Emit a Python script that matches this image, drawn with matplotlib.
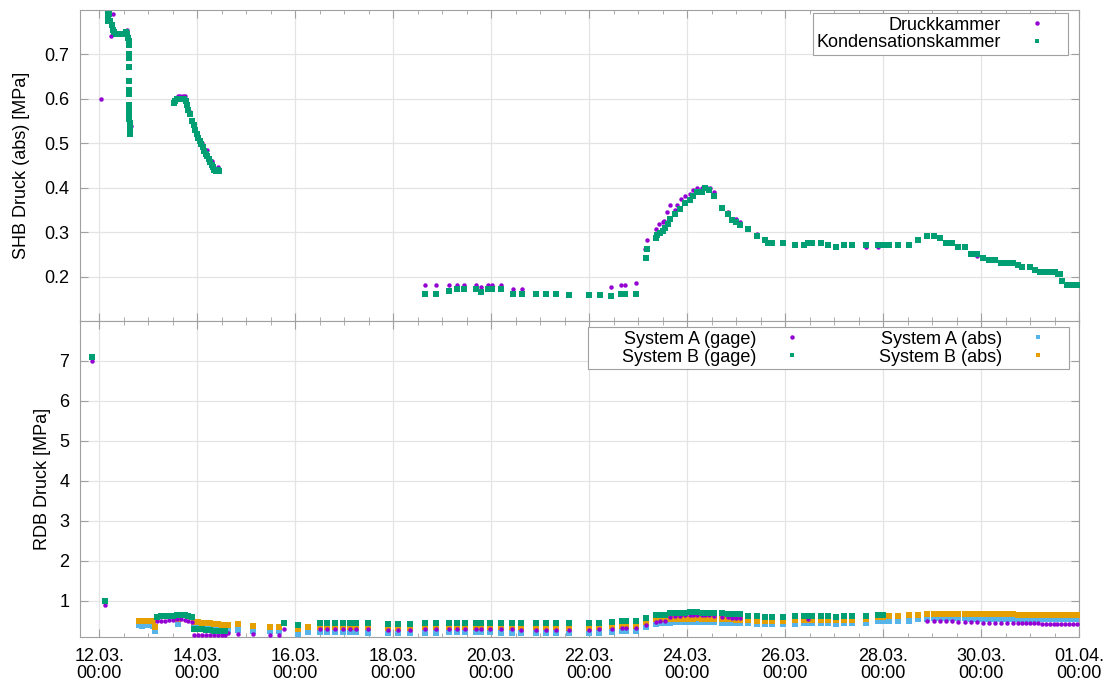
import numpy as np
import matplotlib
matplotlib.use("Agg")
import matplotlib.pyplot as plt
import matplotlib.dates as mdates
from matplotlib.lines import Line2D

plt.rcParams['font.family'] = ['Liberation Sans', 'DejaVu Sans']
plt.rcParams['font.size'] = 13

# all times are days after 12.03.2011 00:00
t0 = mdates.date2num(np.datetime64('2011-03-12T00:00'))

# ---- SHB (containment) pressure, abs [MPa]
t_druck = [0.035, 0.17, 0.24, 0.27, 0.30, 0.40, 0.50, 0.56, 0.59, 0.65,
           1.53, 1.60, 1.65, 1.70, 1.75, 1.85, 2.00, 2.10, 2.20, 2.30, 2.43,
           6.65, 6.87, 7.13, 7.30, 7.45, 7.69, 7.80, 7.93, 8.01, 8.20, 8.44, 8.62,
           9.59, 10.00, 10.22, 10.45, 10.65, 10.73, 10.96,
           11.15, 11.18, 11.37, 11.42, 11.50, 11.53, 11.58, 11.65, 11.75, 11.80,
           11.87, 11.96, 12.05, 12.13, 12.21, 12.30, 12.40, 12.47, 12.54, 12.71,
           12.83, 12.91, 13.00, 13.08, 13.25, 13.42, 13.59, 13.73, 13.96, 14.20,
           14.39, 14.55, 14.73, 14.87, 15.04, 15.21, 15.37, 15.65, 15.90, 16.00,
           16.13, 16.30, 16.52, 16.72, 16.90, 17.04, 17.16, 17.29, 17.41, 17.54,
           17.67, 17.79, 17.91, 18.05, 18.16, 18.29, 18.41, 18.53, 18.66, 18.75,
           18.84, 19.00, 19.10, 19.20, 19.31, 19.41, 19.51, 19.57, 19.61, 19.66,
           19.76, 19.86, 19.96]
p_druck = [0.600, 0.780, 0.740, 0.790, 0.750, 0.745, 0.750, 0.755, 0.670, 0.538,
           0.595, 0.605, 0.605, 0.605, 0.605, 0.570, 0.520, 0.500, 0.485, 0.460, 0.445,
           0.181, 0.181, 0.181, 0.181, 0.181, 0.181, 0.176, 0.181, 0.181, 0.181, 0.172, 0.172,
           0.161, 0.161, 0.161, 0.176, 0.182, 0.182, 0.186,
           0.261, 0.281, 0.307, 0.319, 0.323, 0.325, 0.344, 0.361, 0.349, 0.361,
           0.375, 0.381, 0.385, 0.394, 0.400, 0.400, 0.400, 0.400, 0.389, 0.355,
           0.345, 0.330, 0.330, 0.322, 0.310, 0.295, 0.281, 0.276, 0.276, 0.271,
           0.271, 0.276, 0.276, 0.271, 0.266, 0.271, 0.271, 0.266, 0.266, 0.271,
           0.271, 0.271, 0.271, 0.281, 0.291, 0.291, 0.286, 0.276, 0.276, 0.266,
           0.266, 0.251, 0.246, 0.241, 0.236, 0.236, 0.231, 0.231, 0.231, 0.226,
           0.221, 0.221, 0.214, 0.211, 0.211, 0.211, 0.211, 0.208, 0.206, 0.191,
           0.181, 0.181, 0.181]

t_kond = [0.17, 0.17, 0.17, 0.17, 0.20, 0.22, 0.25, 0.28, 0.30, 0.33, 0.37, 0.40,
          0.44, 0.48, 0.52, 0.55, 0.57, 0.58, 0.60, 0.60, 0.60, 0.60, 0.60, 0.61,
          0.61, 0.61, 0.61, 0.61, 0.61, 0.61, 0.62, 0.62, 0.62, 0.62,
          1.53, 1.55, 1.58, 1.62, 1.66, 1.70, 1.73, 1.76, 1.79, 1.82, 1.86, 1.90,
          1.93, 1.96, 1.99, 2.02, 2.05, 2.08, 2.11, 2.14, 2.17, 2.20, 2.23, 2.26,
          2.29, 2.32, 2.35, 2.38, 2.42, 2.45,
          6.65, 6.87, 7.13, 7.30, 7.45, 7.69, 7.80, 7.93, 8.01, 8.20, 8.44, 8.62,
          8.91, 9.11, 9.32, 9.59, 10.00, 10.22, 10.45, 10.65, 10.73, 10.96,
          11.16, 11.18, 11.37, 11.39, 11.45, 11.50, 11.55, 11.60, 11.65, 11.75,
          11.85, 11.96, 12.05, 12.13, 12.21, 12.30, 12.37, 12.45, 12.54, 12.71,
          12.83, 12.91, 13.00, 13.08, 13.25, 13.42, 13.59, 13.65, 13.73, 13.96,
          14.20, 14.39, 14.47, 14.55, 14.73, 14.87, 15.04, 15.21, 15.37, 15.65,
          15.90, 16.00, 16.13, 16.30, 16.52, 16.72, 16.90, 17.04, 17.16, 17.29,
          17.41, 17.54, 17.67, 17.79, 17.91, 18.05, 18.16, 18.29, 18.41, 18.53,
          18.66, 18.75, 18.84, 19.00, 19.10, 19.20, 19.31, 19.41, 19.51, 19.57,
          19.61, 19.66, 19.76, 19.86, 19.96]
p_kond = [0.790, 0.785, 0.780, 0.775, 0.790, 0.775, 0.765, 0.755, 0.750, 0.745, 0.745, 0.745,
          0.745, 0.745, 0.745, 0.750, 0.745, 0.735, 0.730, 0.720, 0.700, 0.690, 0.670, 0.640,
          0.620, 0.610, 0.585, 0.575, 0.565, 0.555, 0.545, 0.535, 0.530, 0.520,
          0.590, 0.595, 0.600, 0.600, 0.600, 0.600, 0.600, 0.595, 0.585, 0.575, 0.565, 0.550,
          0.540, 0.530, 0.520, 0.512, 0.505, 0.498, 0.490, 0.483, 0.476, 0.470, 0.463, 0.457,
          0.450, 0.445, 0.440, 0.437, 0.440, 0.437,
          0.161, 0.161, 0.167, 0.171, 0.171, 0.171, 0.165, 0.171, 0.171, 0.171, 0.161, 0.161,
          0.161, 0.161, 0.161, 0.159, 0.159, 0.159, 0.157, 0.161, 0.161, 0.161,
          0.241, 0.261, 0.286, 0.293, 0.297, 0.302, 0.308, 0.319, 0.329, 0.340,
          0.352, 0.366, 0.372, 0.381, 0.389, 0.389, 0.400, 0.394, 0.381, 0.355,
          0.340, 0.327, 0.322, 0.316, 0.306, 0.291, 0.281, 0.276, 0.276, 0.276,
          0.271, 0.271, 0.276, 0.276, 0.276, 0.271, 0.266, 0.271, 0.271, 0.271,
          0.271, 0.271, 0.271, 0.271, 0.271, 0.281, 0.291, 0.291, 0.286, 0.276,
          0.276, 0.266, 0.266, 0.251, 0.251, 0.241, 0.236, 0.236, 0.231, 0.231,
          0.231, 0.226, 0.221, 0.221, 0.214, 0.211, 0.211, 0.211, 0.211, 0.206,
          0.206, 0.191, 0.181, 0.181, 0.181]

# ---- RDB (reactor vessel) pressure [MPa], nan = no reading
nan = np.nan
t_rdb = [-0.155, 0.116, 0.80, 0.88, 0.96, 1.04, 1.10, 1.14,
         1.18, 1.26, 1.34, 1.42, 1.50, 1.58, 1.61, 1.66, 1.74, 1.82, 1.90,
         1.94, 2.02, 2.10, 2.18, 2.26, 2.34, 2.42, 2.50, 2.56,
         2.63, 2.84, 3.14, 3.49, 3.66, 3.78, 4.06, 4.27, 4.51, 4.64, 4.81, 4.98,
         5.12, 5.25, 5.49, 5.90, 6.10, 6.34, 6.65, 6.87, 7.13, 7.30, 7.47, 7.69,
         7.79, 7.98, 8.20, 8.43, 8.61, 8.91, 9.12, 9.32, 9.58, 10.00, 10.21, 10.46,
         10.67, 10.75, 10.96, 11.16, 11.37, 11.45, 11.55, 11.65, 11.75, 11.85, 11.96,
         12.05, 12.13, 12.21, 12.30, 12.37, 12.45, 12.54, 12.71, 12.83, 12.91, 13.00,
         13.08, 13.25, 13.42, 13.59, 13.73, 13.96, 14.20, 14.39, 14.47, 14.55, 14.73,
         14.87, 15.04, 15.21, 15.37, 15.65, 15.90, 16.00, 16.13, 16.30, 16.52, 16.72,
         16.90, 17.04, 17.16, 17.29, 17.41, 17.54, 17.67, 17.79, 17.91, 18.05, 18.16,
         18.29, 18.41, 18.53, 18.66, 18.75, 18.84, 18.92, 19.00, 19.08, 19.16, 19.24,
         19.32, 19.40, 19.48, 19.56, 19.64, 19.72, 19.80, 19.88, 19.96]
a_gage = [7.00, 0.90, nan, nan, nan, nan, nan, nan,
          0.48, 0.49, 0.50, 0.51, 0.52, 0.53, nan, 0.53, 0.52, 0.50, 0.47,
          0.15, 0.15, 0.14, 0.15, 0.14, 0.14, 0.13, 0.13, 0.13,
          0.18, 0.17, 0.16, 0.15, 0.15, 0.30, nan, nan, 0.28, 0.28, 0.29, 0.29,
          0.29, 0.28, 0.28, 0.27, 0.27, 0.27, 0.28, 0.28, 0.29, 0.29, 0.28, 0.29,
          0.29, 0.29, 0.28, 0.28, 0.27, 0.27, 0.27, 0.27, 0.27, 0.27, 0.28, 0.30,
          0.31, 0.31, 0.31, 0.40, 0.47, 0.48, 0.50, 0.58, 0.61, 0.62, 0.63,
          0.64, 0.64, 0.64, 0.64, 0.64, 0.63, 0.62, 0.60, 0.58, 0.57, 0.57,
          0.56, nan, nan, nan, nan, nan, nan, nan, 0.55, nan, nan,
          nan, nan, nan, nan, nan, nan, nan, nan, nan, nan, nan,
          0.48, 0.49, 0.49, 0.49, 0.49, 0.46, 0.46, 0.46, 0.46, 0.45, 0.45,
          0.45, 0.45, 0.45, 0.45, 0.44, 0.43, 0.43, 0.43, 0.43, 0.43, 0.42,
          0.42, 0.42, 0.42, 0.42, 0.42, 0.41, 0.42, 0.41, 0.41]
b_gage = [7.11, 1.00, nan, nan, nan, nan, nan, nan,
          0.60, 0.61, 0.61, 0.62, 0.62, 0.63, nan, 0.63, 0.63, 0.62, 0.59,
          0.30, 0.29, 0.28, 0.27, 0.26, 0.25, 0.24, 0.23, 0.23,
          nan, nan, nan, nan, nan, 0.45, 0.40, nan, 0.44, 0.44, 0.45, 0.45,
          0.44, 0.44, 0.43, 0.42, 0.41, 0.42, 0.43, 0.43, 0.45, 0.45, 0.44, 0.45,
          0.45, 0.45, 0.44, 0.43, 0.43, 0.43, 0.43, 0.43, 0.43, 0.43, 0.44, 0.47,
          0.48, 0.48, 0.48, 0.56, 0.63, 0.64, 0.64, 0.68, 0.70, 0.70, 0.70,
          0.71, 0.71, 0.71, 0.70, 0.70, 0.70, 0.69, 0.69, 0.67, 0.67, 0.66,
          0.66, 0.62, 0.61, 0.60, 0.60, 0.60, 0.61, 0.61, 0.62, 0.61, 0.61,
          0.61, 0.60, 0.61, 0.61, 0.62, 0.63, 0.63, nan, nan, nan, nan,
          nan, nan, nan, nan, nan, nan, nan, nan, nan, nan, nan,
          nan, nan, nan, nan, nan, nan, nan, nan, nan, nan, nan,
          nan, nan, nan, nan, nan, nan, nan, nan, nan]
a_abs = [nan, nan, 0.38, 0.37, 0.38, 0.39, 0.37, 0.24,
         nan, nan, nan, nan, nan, nan, 0.42, nan, nan, nan, nan,
         0.38, 0.37, 0.36, 0.35, 0.34, 0.33, 0.32, 0.31, 0.31,
         0.27, 0.27, 0.25, 0.24, 0.24, nan, 0.14, 0.22, 0.21, 0.21, 0.21, 0.22,
         0.21, 0.21, 0.20, 0.20, 0.19, 0.20, 0.20, 0.20, 0.21, 0.21, 0.21, 0.21,
         0.21, 0.21, 0.20, 0.20, 0.20, 0.20, 0.20, 0.20, 0.19, 0.19, 0.20, 0.22,
         0.24, 0.24, 0.24, 0.33, 0.41, 0.43, 0.44, 0.45, 0.46, 0.46, 0.46,
         0.47, 0.47, 0.47, 0.47, 0.47, 0.47, 0.46, 0.45, 0.45, 0.45, 0.44,
         0.44, 0.44, 0.42, 0.42, 0.42, 0.42, 0.42, 0.43, 0.43, 0.43, 0.43,
         0.43, 0.42, 0.43, 0.43, 0.44, 0.48, 0.48, 0.50, 0.50, 0.50, 0.53,
         0.55, 0.56, 0.56, 0.56, 0.56, 0.56, 0.56, 0.55, 0.55, 0.55, 0.55,
         0.55, 0.55, 0.55, 0.55, 0.54, 0.54, 0.54, 0.54, 0.54, 0.54, 0.54,
         0.54, 0.54, 0.53, 0.53, 0.53, 0.53, 0.53, 0.53, 0.53]
b_abs = [nan, nan, 0.48, 0.48, 0.49, 0.50, 0.49, 0.35,
         nan, nan, nan, nan, nan, nan, 0.54, nan, nan, nan, nan,
         0.47, 0.46, 0.45, 0.44, 0.43, 0.42, 0.41, 0.40, 0.40,
         0.40, 0.41, 0.37, 0.33, 0.33, nan, 0.30, 0.33, 0.34, 0.34, 0.34, 0.35,
         0.34, 0.34, 0.33, 0.32, 0.31, 0.32, 0.33, 0.33, 0.34, 0.34, 0.34, 0.34,
         0.34, 0.34, 0.33, 0.33, 0.33, 0.33, 0.33, 0.33, 0.32, 0.32, 0.33, 0.36,
         0.37, 0.37, 0.37, 0.47, 0.53, 0.54, 0.55, 0.54, 0.55, 0.55, 0.55,
         0.55, 0.55, 0.56, 0.55, 0.55, 0.55, 0.54, 0.53, 0.53, 0.53, 0.52,
         0.52, 0.52, 0.50, 0.50, 0.50, 0.50, 0.51, 0.51, 0.52, 0.52, 0.52,
         0.51, 0.51, 0.51, 0.52, 0.55, 0.60, 0.60, 0.62, 0.62, 0.63, 0.64,
         0.66, 0.67, 0.67, 0.67, 0.67, 0.66, 0.66, 0.66, 0.66, 0.66, 0.66,
         0.66, 0.66, 0.66, 0.66, 0.65, 0.65, 0.65, 0.65, 0.65, 0.65, 0.65,
         0.65, 0.65, 0.65, 0.65, 0.65, 0.65, 0.64, 0.64, 0.64]

PURPLE = '#9400d3'
GREEN = '#009e73'
BLUE = '#56b4e9'
ORANGE = '#e69f00'
GRAY = '#a0a0a0'


def days(t):
    return t0 + np.asarray(t, dtype=float)


def style(ax, ylim, yticks):
    ax.set_xlim(t0 - 0.385, t0 + 20)
    ax.set_ylim(*ylim)
    ax.set_yticks(yticks)
    ax.xaxis.set_major_locator(plt.FixedLocator(t0 + np.arange(0, 21, 2)))
    ax.xaxis.set_minor_locator(plt.FixedLocator(t0 + np.arange(-0.5, 20.01, 0.5)))
    ax.xaxis.set_major_formatter(mdates.DateFormatter('%d.%m.\n%H:%M'))
    ax.tick_params(which='both', direction='in', top=True, right=True, color=GRAY)
    ax.tick_params(which='major', length=6, pad=8)
    ax.tick_params(which='minor', length=3)
    ax.tick_params(axis='y', which='minor', left=False, right=False)
    ax.grid(True, which='major', color='#e4e4e4', lw=0.9)
    ax.set_axisbelow(True)
    for s in ax.spines.values():
        s.set_color(GRAY)


fig = plt.figure(figsize=(11.07, 6.84), dpi=100)
ax1 = fig.add_axes([0.0727, 0.5307, 0.902, 0.4554])
ax2 = fig.add_axes([0.0727, 0.0694, 0.902, 0.4613])

# top: SHB
ax1.plot(days(t_druck), p_druck, 'o', color=PURPLE, ms=3.2, mew=0, zorder=3)
ax1.plot(days(t_kond), p_kond, 's', color=GREEN, ms=4.0, mew=0, zorder=4)
style(ax1, (0.1, 0.8), [0.2, 0.3, 0.4, 0.5, 0.6, 0.7])
ax1.tick_params(axis='x', labelbottom=False)
ax1.set_ylabel('SHB Druck (abs) [MPa]', labelpad=10)

h1 = [Line2D([], [], ls='', marker='o', color=PURPLE, ms=3.2, mew=0),
      Line2D([], [], ls='', marker='s', color=GREEN, ms=3.2, mew=0)]
leg1 = ax1.legend(h1, ['Druckkammer', 'Kondensationskammer'], loc='upper right',
                  bbox_to_anchor=(0.989, 0.989), borderaxespad=0, markerfirst=False,
                  fancybox=False, framealpha=1, edgecolor=GRAY, handlelength=3,
                  handletextpad=0.5, labelspacing=0.05, borderpad=0.2)
leg1.get_frame().set_linewidth(0.8)

# bottom: RDB
ax2.plot(days(t_rdb), a_abs, 's', color=BLUE, ms=4.5, mew=0, zorder=2)
ax2.plot(days(t_rdb), b_abs, 's', color=ORANGE, ms=4.5, mew=0, zorder=3)
ax2.plot(days(t_rdb), a_gage, 'o', color=PURPLE, ms=3.2, mew=0, zorder=4)
ax2.plot(days(t_rdb), b_gage, 's', color=GREEN, ms=4.5, mew=0, zorder=5)
style(ax2, (0.1, 8.0), [1, 2, 3, 4, 5, 6, 7])
ax2.set_ylabel('RDB Druck [MPa]', labelpad=6)
for lab in ax2.get_xticklabels():
    lab.set_linespacing(1.0)

h2 = [Line2D([], [], ls='', marker='o', color=PURPLE, ms=3.2, mew=0),
      Line2D([], [], ls='', marker='s', color=GREEN, ms=3.2, mew=0),
      Line2D([], [], ls='', marker='s', color=BLUE, ms=3.2, mew=0),
      Line2D([], [], ls='', marker='s', color=ORANGE, ms=3.2, mew=0)]
# leading spaces widen the first column like the gnuplot key box
leg2 = ax2.legend(h2, ['      System A (gage)', '      System B (gage)',
                       'System A (abs)', 'System B (abs)'],
                  ncol=2, loc='upper right', bbox_to_anchor=(0.99, 0.981), borderaxespad=0,
                  markerfirst=False, fancybox=False, framealpha=1, edgecolor=GRAY,
                  handlelength=3, handletextpad=0.5, labelspacing=0.05, borderpad=0.2,
                  columnspacing=3.3)
leg2.get_frame().set_linewidth(0.8)

fig.savefig('out.png', dpi=100)
